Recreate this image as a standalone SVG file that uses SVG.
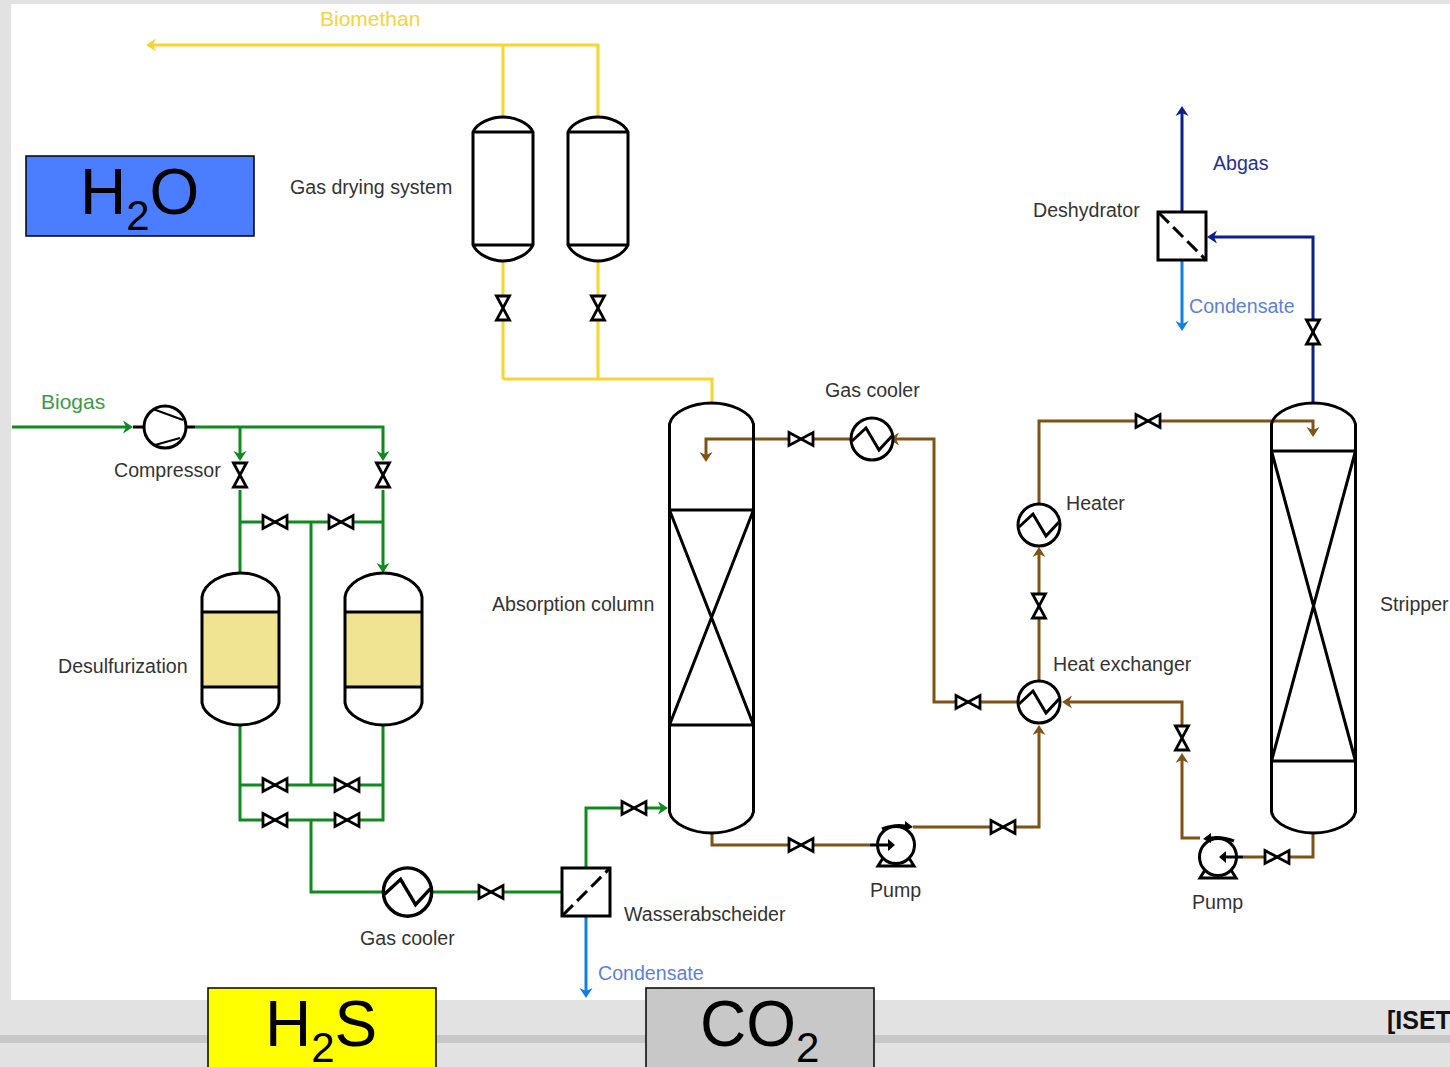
<svg xmlns="http://www.w3.org/2000/svg" xmlns:xlink="http://www.w3.org/1999/xlink" width="1450" height="1067" viewBox="0 0 1450 1067">
<style>
text{font-family:"Liberation Sans",Arial,sans-serif;font-size:19.6px;fill:#333}
.p{fill:none;stroke-width:3;stroke-linejoin:miter}
.g{stroke:#0f8a1f}.y{stroke:#f7d42f}.b{stroke:#7f5315}.n{stroke:#0c1f8a}.c{stroke:#0f7fe0}
.k{fill:none;stroke:#000;stroke-width:3}
.kw{fill:#fff;stroke:#000;stroke-width:3}
.big{font-size:64px;fill:#000}
.sub{font-size:42px;fill:#000}
.flow{font-size:20.500px}
</style>
<defs>
<marker id="ag" markerUnits="userSpaceOnUse" markerWidth="16" markerHeight="16" refX="7" refY="8" orient="auto"><path d="M0,1.500L10,8L0,14.500L3,8Z" fill="#0f8a1f"/></marker>
<marker id="ay" markerUnits="userSpaceOnUse" markerWidth="16" markerHeight="16" refX="7" refY="8" orient="auto"><path d="M0,1.500L10,8L0,14.500L3,8Z" fill="#f7d42f"/></marker>
<marker id="ab" markerUnits="userSpaceOnUse" markerWidth="16" markerHeight="16" refX="7" refY="8" orient="auto"><path d="M0,1.500L10,8L0,14.500L3,8Z" fill="#7f5315"/></marker>
<marker id="an" markerUnits="userSpaceOnUse" markerWidth="16" markerHeight="16" refX="7" refY="8" orient="auto"><path d="M0,1.500L10,8L0,14.500L3,8Z" fill="#0c1f8a"/></marker>
<marker id="ac" markerUnits="userSpaceOnUse" markerWidth="16" markerHeight="16" refX="7" refY="8" orient="auto"><path d="M0,1.500L10,8L0,14.500L3,8Z" fill="#0f7fe0"/></marker>
<path id="vh" d="M-12,-6.500L12,6.500V-6.500L-12,6.500Z" fill="#fff" stroke="#000" stroke-width="2.800"/>
<path id="vv" d="M-6.500,-12L6.500,12H-6.500L6.500,-12Z" fill="#fff" stroke="#000" stroke-width="2.800"/>
<g id="hx"><circle r="21" fill="#fff" stroke="#000" stroke-width="3"/><path d="M-20,2L-6,-11L7,11L20,-3" fill="none" stroke="#000" stroke-width="3"/></g>
</defs>
<rect width="1450" height="1067" fill="#e2e2e2"/>
<rect x="11" y="4" width="1439" height="996" fill="#fff"/>
<rect x="0" y="1035" width="1450" height="8" fill="#c8c8c8"/>
<g id="connectors">
<path class="p g" d="M12,427H130" marker-end="url(#ag)"/>
<path class="p g" d="M195,427H383V458" marker-end="url(#ag)"/>
<path class="p g" d="M240,427V458" marker-end="url(#ag)"/>
<path class="p g" d="M240,490V573"/>
<path class="p g" d="M383,490V570" marker-end="url(#ag)"/>
<path class="p g" d="M240,522H383M311,522V785M240,725V820H383V725M240,785H383M311,820V892H385M431,892H562"/>
<path class="p g" d="M586,868V808H665" marker-end="url(#ag)"/>
<path class="p y" d="M598,117V45H149" marker-end="url(#ay)"/>
<path class="p y" d="M503,117V45M503,261V379M598,261V379M503,379H712V404"/>
<path class="p b" d="M851,439H706V459" marker-end="url(#ab)"/>
<path class="p b" d="M1018,702H934V439H892" marker-end="url(#ab)"/>
<path class="p b" d="M1039,503V421H1313V434" marker-end="url(#ab)"/>
<path class="p b" d="M1039,681V550" marker-end="url(#ab)"/>
<path class="p b" d="M712,833V845H870"/>
<path class="p b" d="M913,827H1039V728" marker-end="url(#ab)"/>
<path class="p b" d="M1313,833V857H1243"/>
<path class="p b" d="M1200,838H1182V756" marker-end="url(#ab)"/>
<path class="p b" d="M1182,726V702H1065" marker-end="url(#ab)"/>
<path class="p n" d="M1313,403V237H1210" marker-end="url(#an)"/>
<path class="p n" d="M1182,212V109" marker-end="url(#an)"/>
<path class="p c" d="M1182,261V328" marker-end="url(#ac)"/>
<path class="p c" d="M586,916V995" marker-end="url(#ac)"/>
</g>
<g id="valves">
<use xlink:href="#vv" href="#vv" x="240" y="475"/><use xlink:href="#vv" href="#vv" x="383" y="475"/>
<use xlink:href="#vh" href="#vh" x="275" y="522"/><use xlink:href="#vh" href="#vh" x="341" y="522"/>
<use xlink:href="#vh" href="#vh" x="275" y="785"/><use xlink:href="#vh" href="#vh" x="347" y="785"/>
<use xlink:href="#vh" href="#vh" x="275" y="820"/><use xlink:href="#vh" href="#vh" x="347" y="820"/>
<use xlink:href="#vh" href="#vh" x="491" y="892"/><use xlink:href="#vh" href="#vh" x="634" y="808"/>
<use xlink:href="#vv" href="#vv" x="503" y="308"/><use xlink:href="#vv" href="#vv" x="598" y="308"/>
<use xlink:href="#vh" href="#vh" x="801" y="439"/><use xlink:href="#vh" href="#vh" x="968" y="702"/>
<use xlink:href="#vh" href="#vh" x="1148" y="421"/><use xlink:href="#vv" href="#vv" x="1039" y="606"/>
<use xlink:href="#vh" href="#vh" x="801" y="845"/><use xlink:href="#vh" href="#vh" x="1003" y="827"/>
<use xlink:href="#vh" href="#vh" x="1277" y="857"/><use xlink:href="#vv" href="#vv" x="1182" y="738"/>
<use xlink:href="#vv" href="#vv" x="1313" y="332"/>
</g>
<g id="compressor">
<path class="k" d="M133,427H145M185,427H195"/>
<circle class="kw" cx="165" cy="427" r="21"/>
<path d="M153,409L183,420M155,445L180,438" fill="none" stroke="#000" stroke-width="2"/>
<text x="114" y="477">Compressor</text>
</g>
<g id="desulf-1">
<rect x="203" y="612" width="75" height="75" fill="#f0e391"/>
<path class="k" d="M202,612V597C204,583 222,573 240.500,573C259,573 277,583 279,597V703C277,715 259,725 240.500,725C222,725 204,715 202,703ZM202,612H279M202,687H279"/>
<text x="58" y="673">Desulfurization</text>
</g>
<g id="desulf-2">
<rect x="346" y="612" width="75" height="75" fill="#f0e391"/>
<path class="k" d="M345,612V597C347,583 365,573 383.500,573C402,573 420,583 422,597V703C420,715 402,725 383.500,725C365,725 347,715 345,703ZM345,612H422M345,687H422"/>
</g>
<g id="gas-cooler-1">
<use xlink:href="#hx" href="#hx" transform="translate(407.500,892) scale(1.150)"/>
<text x="360" y="945">Gas cooler</text>
</g>
<g id="wasserabscheider">
<rect x="562" y="868" width="48" height="48" fill="#fff" stroke="#000" stroke-width="3"/>
<path class="k" d="M563,915L609,869" stroke-dasharray="14 6"/>
<text x="624" y="921">Wasserabscheider</text>
</g>
<g id="dryer-1">
<path class="k" d="M473,132C477,123 491,117 503,117C515,117 529,123 533,132V245C529,254 515,261 503,261C491,261 477,254 473,245ZM473,132H533M473,245H533"/>
<text x="290" y="194">Gas drying system</text>
</g>
<g id="dryer-2">
<path class="k" d="M568,132C572,123 586,117 598,117C610,117 624,123 628,132V245C624,254 610,261 598,261C586,261 572,254 568,245ZM568,132H628M568,245H628"/>
</g>
<g id="absorption-column">
<path class="k" d="M669.500,424C672,412 692,403 711.500,403C731,403 751,412 753.500,424V812C751,824 731,833 711.500,833C692,833 672,824 669.500,812ZM669.500,510H753.500M669.500,725H753.500M669.500,510L753.500,725M753.500,510L669.500,725"/>
<text x="492" y="611">Absorption column</text>
</g>
<g id="gas-cooler-2">
<use xlink:href="#hx" href="#hx" x="872" y="439"/>
<text x="825" y="397">Gas cooler</text>
</g>
<g id="heater">
<use xlink:href="#hx" href="#hx" x="1039" y="525"/>
<text x="1066" y="510">Heater</text>
</g>
<g id="heat-exchanger">
<use xlink:href="#hx" href="#hx" x="1039" y="702"/>
<text x="1053" y="671">Heat exchanger</text>
</g>
<g id="pump-1">
<circle class="kw" cx="896" cy="845" r="18.500"/>
<path class="k" d="M883,858L878,866H914L909,858M870,845H890M882,829Q897,823 910,827"/>
<path d="M888,839L895,845L888,851ZM905,821L913,827L905,831Z" fill="#000"/>
<text x="870" y="897">Pump</text>
</g>
<g id="pump-2">
<circle class="kw" cx="1218" cy="857" r="18.500"/>
<path class="k" d="M1205,870L1200,878H1236L1231,870M1243,857H1224M1234,841Q1219,835 1206,839"/>
<path d="M1226,851L1219,857L1226,863ZM1211,833L1203,839L1211,843Z" fill="#000"/>
<text x="1192" y="909">Pump</text>
</g>
<g id="stripper">
<path class="k" d="M1271.500,424C1274,412 1294,403 1313.500,403C1333,403 1353,412 1355.500,424V812C1353,824 1333,833 1313.500,833C1294,833 1274,824 1271.500,812ZM1271.500,451H1355.500M1271.500,761H1355.500M1271.500,451L1355.500,761M1355.500,451L1271.500,761"/>
<text x="1380" y="611">Stripper</text>
</g>
<g id="deshydrator">
<rect x="1158" y="212" width="48" height="48" fill="#fff" stroke="#000" stroke-width="3"/>
<path class="k" d="M1159,213L1205,259" stroke-dasharray="14 6"/>
<text x="1033" y="217">Deshydrator</text>
</g>
<g id="labels">
<text class="flow" x="320" y="26" style="fill:#f5d33c;font-size:21px">Biomethan</text>
<text class="flow" x="41" y="409" style="fill:#3c9a46;font-size:21px">Biogas</text>
<text x="1213" y="170" style="fill:#26308f">Abgas</text>
<text x="1189" y="313" style="fill:#5b82d8">Condensate</text>
<text x="598" y="980" style="fill:#5b82d8">Condensate</text>
</g>
<g id="h2o">
<rect x="26" y="156" width="228" height="80" fill="#4a7dff" stroke="#000" stroke-width="1.500"/>
<text class="big" x="80" y="214">H<tspan class="sub" dy="16">2</tspan><tspan dy="-16">O</tspan></text>
</g>
<g id="h2s">
<rect x="208" y="988" width="228" height="90" fill="#ffff00" stroke="#000" stroke-width="1.500"/>
<text class="big" x="265" y="1046">H<tspan class="sub" dy="16">2</tspan><tspan dy="-16">S</tspan></text>
</g>
<g id="co2">
<rect x="646" y="988" width="228" height="90" fill="#c8c8c8" stroke="#000" stroke-width="1.500"/>
<text class="big" x="700" y="1046">CO<tspan class="sub" dy="16">2</tspan></text>
</g>
<text x="1387" y="1029" style="font-size:25px;font-weight:bold;fill:#111">[ISET</text>
</svg>
